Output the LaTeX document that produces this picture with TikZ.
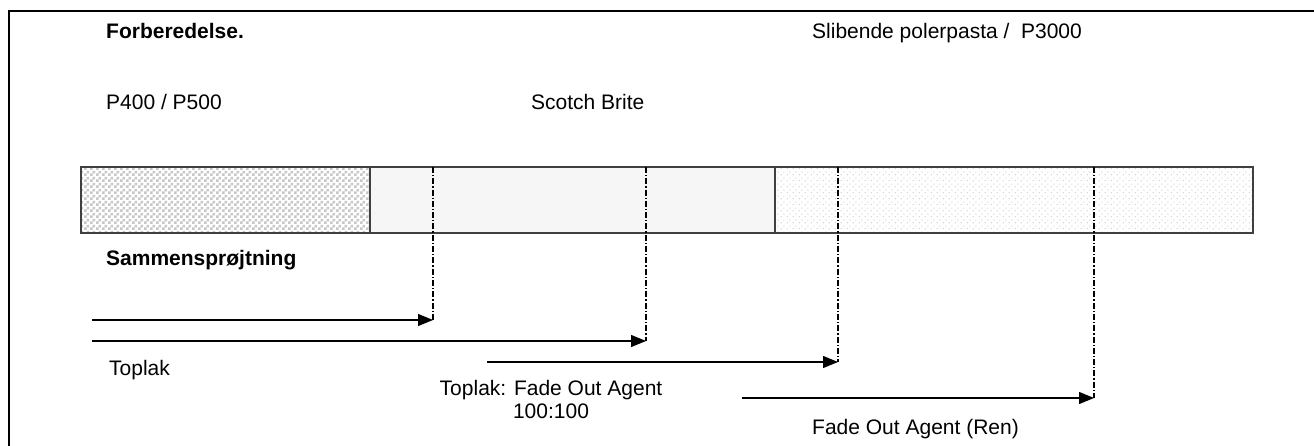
\documentclass[tikz,border=0pt]{standalone}
\usepackage{fontspec}
\setmainfont{Liberation Sans}
\usetikzlibrary{arrows.meta,patterns.meta}
\pgfdeclarepattern{
  name=sdots, type=uncolored,
  bottom left={\pgfpoint{0pt}{0pt}}, top right={\pgfpoint{6pt}{6pt}},
  tile size={\pgfpoint{6pt}{6pt}},
  code={
    \pgfpathcircle{\pgfpoint{1.5pt}{1.5pt}}{0.75pt}
    \pgfpathcircle{\pgfpoint{4.5pt}{4.5pt}}{0.75pt}
    \pgfusepath{fill}
  }
}
\pgfdeclarepattern{
  name=checks, type=uncolored,
  bottom left={\pgfpoint{0pt}{0pt}}, top right={\pgfpoint{6pt}{6pt}},
  tile size={\pgfpoint{6pt}{6pt}},
  code={
    \pgfpathrectangle{\pgfpoint{0pt}{0pt}}{\pgfpoint{3pt}{3pt}}
    \pgfpathrectangle{\pgfpoint{3pt}{3pt}}{\pgfpoint{3pt}{3pt}}
    \pgfusepath{fill}
  }
}
\definecolor{barline}{HTML}{404040}
\definecolor{seglight}{HTML}{F6F6F6}
\begin{document}
\begin{tikzpicture}[x=1pt,y=-1pt,
  lbl/.style={anchor=base west,inner sep=0pt,font=\fontsize{21}{25}\selectfont},
  blbl/.style={lbl,font=\fontsize{21}{25}\selectfont\bfseries},
  seg/.style={draw=barline,line width=1.5pt},
  guide/.style={line width=1.3pt,dash pattern=on 6pt off 2pt on 1.3pt off 2pt},
  arr/.style={line width=1.2pt,-{Triangle[length=15pt,width=12pt]}}]
\useasboundingbox (0,0) rectangle (1314,446);
% frame
\draw[line width=2.6pt] (9,446) -- (9,11) -- (1314,11);
% texts top
\node[blbl] (t1) at (106,39) {Forberedelse.};
\node[lbl] (t2) at (812,39) {Slibende polerpasta /\ \ P3000};
\node[lbl] (t3) at (106,110) {P400 / P500};
\node[lbl] (t4) at (531,110) {Scotch Brite};
% bar segments
\fill[white] (81,167) rectangle (370,233);
\fill[pattern=checks,pattern color=black!22] (81,167) rectangle (370,233);
\fill[seglight] (370,167) rectangle (775,233);
\fill[white] (775,167) rectangle (1253,233);
\fill[pattern=sdots,pattern color=black!22] (775,167) rectangle (1253,233);
\draw[seg] (81,167) rectangle (1253,233);
\draw[seg] (370,167) -- (370,233);
\draw[seg] (775,167) -- (775,233);
% guides
\coordinate (g1t) at (433,167); \coordinate (g1b) at (433,320);
\coordinate (g2t) at (646,167); \coordinate (g2b) at (646,341);
\coordinate (g3t) at (838,167); \coordinate (g3b) at (838,362);
\coordinate (g4t) at (1094,167); \coordinate (g4b) at (1094,398);
\draw[guide] (g1t) -- (g1b);
\draw[guide] (g2t) -- (g2b);
\draw[guide] (g3t) -- (g3b);
\draw[guide] (g4t) -- (g4b);
% arrows
\coordinate (a1) at (92,320);
\coordinate (a2) at (92,341);
\coordinate (a3) at (487,362);
\coordinate (a4) at (742,398);
\draw[arr] (a1) -- (g1b);
\draw[arr] (a2) -- (g2b);
\draw[arr] (a3) -- (g3b);
\draw[arr] (a4) -- (g4b);
% lower texts
\node[blbl] (t5) at (106,266) {Sammensprøjtning};
\node[lbl] (t6) at (109,375) {Toplak};
\node[anchor=north,inner sep=0pt,align=center,font=\fontsize{21}{23}\selectfont] (t7) at (551,380) {Toplak: Fade Out Agent\\100:100};
\node[lbl] (t8) at (812,434) {Fade Out Agent (Ren)};
\end{tikzpicture}
\end{document}
